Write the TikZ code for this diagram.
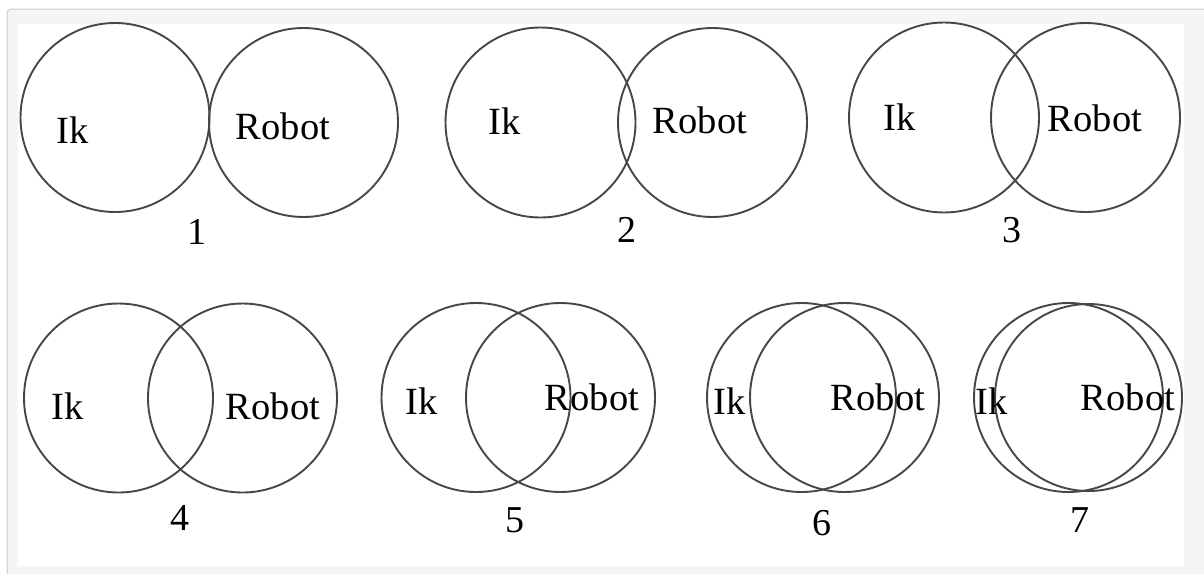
\documentclass[tikz,border=0pt]{standalone}
\usepackage{fontspec}
\setmainfont{Liberation Serif}
\begin{document}
\begin{tikzpicture}[x=1pt,y=-1pt,
  ring/.style={draw=black!72, line width=1.9pt},
  setlabel/.style={font=\fontsize{38.5}{38.5}\selectfont, text=black, inner sep=0pt},
  numlabel/.style={font=\fontsize{38}{38}\selectfont, text=black, inner sep=0pt}]
  % page frame
  \useasboundingbox (0,0) rectangle (1204,573);
  \fill[white] (0,0) rectangle (1204,573);
  \fill[black!4, rounded corners=4pt] (7,9) rectangle (1220,590);
  \draw[black!20, line width=1pt, rounded corners=4pt] (1220,9) -- (7,9) -- (7,590);
  \fill[white] (18,24) rectangle (1184,566);

  % 1: disjoint, touching
  \draw[ring] (115,117.5) circle (94.5);
  \draw[ring] (303.5,122.5) circle (94.5);
  \node[setlabel] (ik1) at (73,130) {Ik};
  \node[setlabel] (rb1) at (283,126) {Robot};
  \node[numlabel] (n1) at (197,232) {1};

  % 2: slight overlap
  \draw[ring] (540.5,122.5) circle (95);
  \draw[ring] (712.5,122.5) circle (94.5);
  \node[setlabel] (ik2) at (505,121) {Ik};
  \node[setlabel] (rb2) at (700,120) {Robot};
  \node[numlabel] (n2) at (627,230) {2};

  % 3
  \draw[ring] (944,117.5) circle (95);
  \draw[ring] (1085.5,117.5) circle (94.5);
  \node[setlabel] (ik3) at (900,117) {Ik};
  \node[setlabel] (rb3) at (1095,118) {Robot};
  \node[numlabel] (n3) at (1012,230) {3};

  % 4
  \draw[ring] (118.5,398) circle (94.5);
  \draw[ring] (242.5,398) circle (94.5);
  \node[setlabel] (ik4) at (68,406) {Ik};
  \node[setlabel] (rb4) at (273,406) {Robot};
  \node[numlabel] (n4) at (180,518) {4};

  % 5
  \draw[ring] (476,397.5) circle (94.5);
  \draw[ring] (560.5,397.5) circle (94.5);
  \node[setlabel] (ik5) at (422,401) {Ik};
  \node[setlabel] (rb5) at (592,397) {Robot};
  \node[numlabel] (n5) at (515,520) {5};

  % 6
  \draw[ring] (801.5,397.5) circle (94.5);
  \draw[ring] (844.5,397.5) circle (94.5);
  \node[setlabel] (ik6) at (730,401) {Ik};
  \node[setlabel] (rb6) at (878,397) {Robot};
  \node[numlabel] (n6) at (822,523) {6};

  % 7: nearly coincident
  \draw[ring] (1068.5,397.5) circle (94.5);
  \draw[ring] (1088.5,397.5) circle (93.5);
  \node[setlabel] (ik7) at (992,401) {Ik};
  \node[setlabel] (rb7) at (1128,397) {Robot};
  \node[numlabel] (n7) at (1080,520) {7};
\end{tikzpicture}
\end{document}
